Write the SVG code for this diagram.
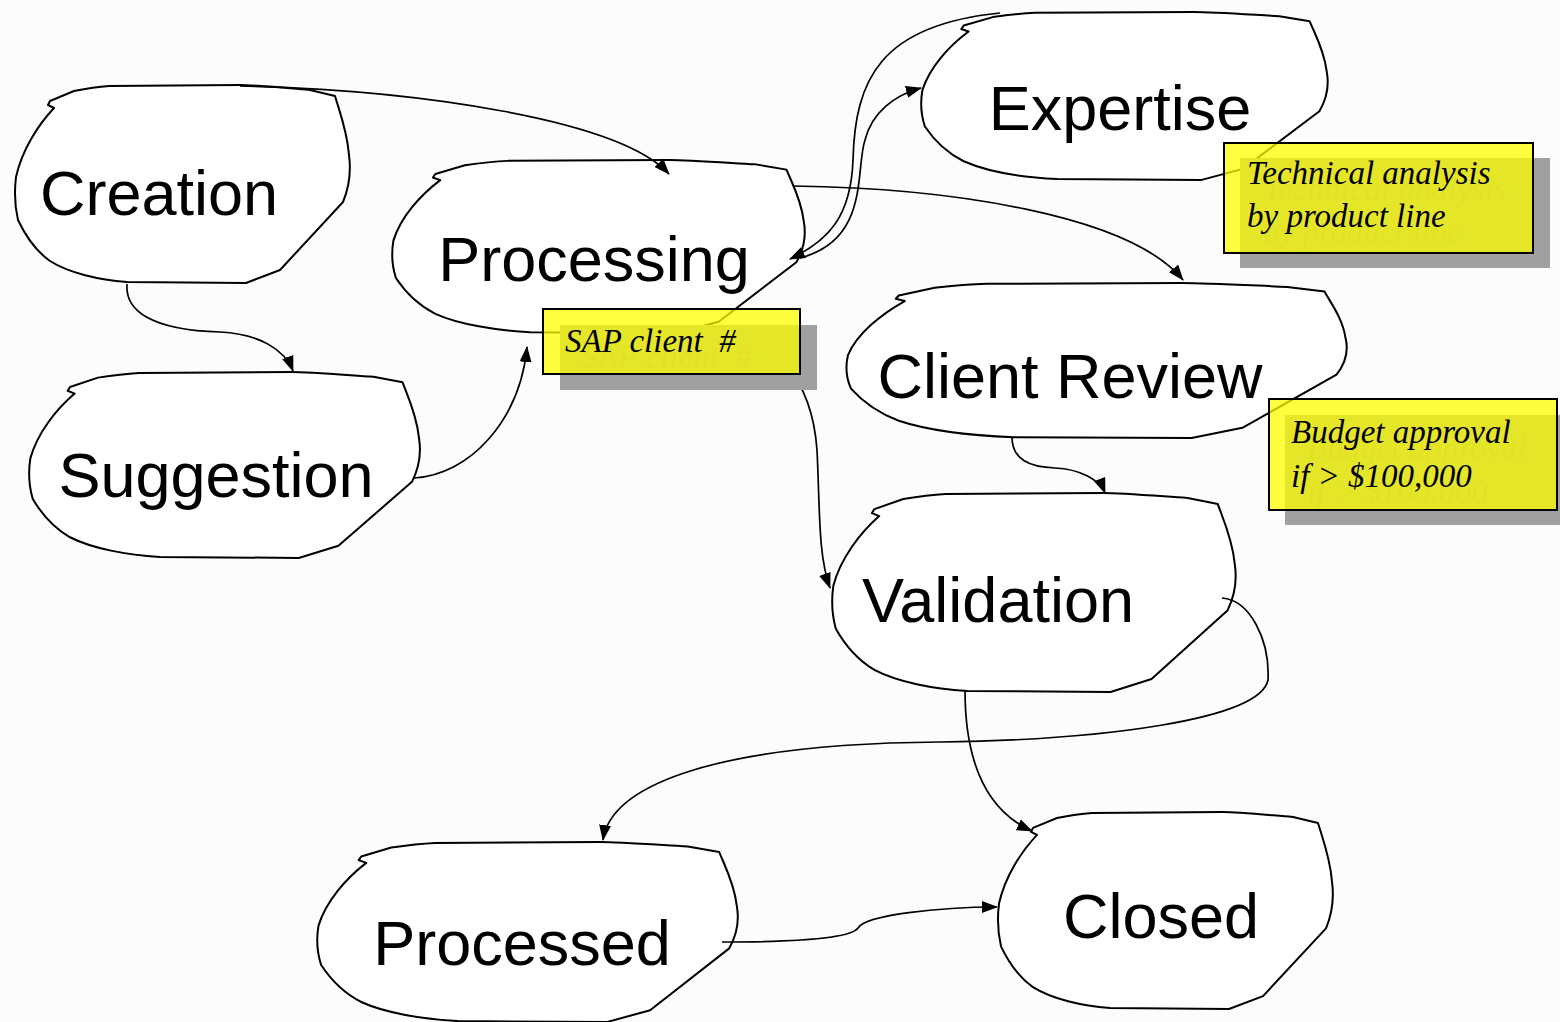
<svg xmlns="http://www.w3.org/2000/svg" xmlns:xlink="http://www.w3.org/1999/xlink" width="1560" height="1022" viewBox="0 0 1560 1022">
<style>
.blob{fill:#ffffff;stroke:#000;stroke-width:2;vector-effect:non-scaling-stroke;stroke-linejoin:round}
.lbl{font-family:"Liberation Sans",Arial,sans-serif;font-size:63px;fill:#000;text-anchor:middle}
.conn{fill:none;stroke:#000;stroke-width:1.7;marker-end:url(#arr)}
.shadow{fill:#a0a0a0}
.note{fill:#ffff00;fill-opacity:0.74;stroke:#000;stroke-width:2}
.ntxt{font-family:"Liberation Serif","Times New Roman",serif;font-style:italic;font-size:33px;fill:#000}
.ghost{font-family:"Liberation Serif","Times New Roman",serif;font-style:italic;font-size:33px;fill:#8e8e8e}
</style>
<defs>
<path id="blob" class="blob" d="M 40,23 C 24,40 8,65 2,92 C 0,108 1,122 4,135 C 12,152 22,166 36,176 C 55,188 85,195 113,197 L 232,198 L 266,185 L 329,117 C 336,100 337,85 335,70 C 333,45 325,25 321,11 L 296,5 C 260,2 240,0 226,0 L 95,1 C 80,2 70,4 60,6 L 36,16 L 34,20 L 40,23 Z"/>
<marker id="arr" markerUnits="userSpaceOnUse" markerWidth="16" markerHeight="12" refX="15" refY="6" orient="auto">
<path d="M0,0 L16,6 L0,12 Z" fill="#000"/>
</marker>
</defs>
<rect x="0" y="0" width="1560" height="1022" fill="#fcfcfc"/>

<g id="node-creation">
<use xlink:href="#blob" href="#blob" transform="translate(14,85) scale(1,1)"/>
<text class="lbl" x="159" y="215">Creation</text>
</g>
<g id="node-processing">
<use xlink:href="#blob" href="#blob" transform="translate(391,160) scale(1.232,0.874)"/>
<text class="lbl" x="594" y="281">Processing</text>
</g>
<g id="node-suggestion">
<use xlink:href="#blob" href="#blob" transform="translate(28,372) scale(1.167,0.939)"/>
<text class="lbl" x="216" y="497">Suggestion</text>
</g>
<g id="node-expertise">
<use xlink:href="#blob" href="#blob" transform="translate(920,12) scale(1.214,0.848)"/>
<text class="lbl" x="1120" y="130">Expertise</text>
</g>
<g id="node-clientreview">
<use xlink:href="#blob" href="#blob" transform="translate(845,283) scale(1.494,0.783)"/>
<text class="lbl" x="1070" y="398">Client Review</text>
</g>
<g id="node-validation">
<use xlink:href="#blob" href="#blob" transform="translate(831,493) scale(1.205,1.005)"/>
<text class="lbl" x="998" y="622">Validation</text>
</g>
<g id="node-processed">
<use xlink:href="#blob" href="#blob" transform="translate(316,842) scale(1.256,0.909)"/>
<text class="lbl" x="522" y="965">Processed</text>
</g>
<g id="node-closed">
<use xlink:href="#blob" href="#blob" transform="translate(997,812) scale(1,0.995)"/>
<text class="lbl" x="1161" y="938">Closed</text>
</g>

<g id="connectors">
<path class="conn" d="M 240,86 C 420,90 620,120 669,174"/>
<path class="conn" d="M 127,284 C 125,310 150,330 220,332 C 260,334 285,350 293,371"/>
<path class="conn" d="M 414,478 C 470,475 520,420 527,347"/>
<path class="conn" d="M 800,258 C 870,240 855,170 865,140 C 872,112 895,95 921,88"/>
<path class="conn" d="M 1000,13 C 880,25 855,80 853,160 C 851,215 830,240 790,259"/>
<path class="conn" d="M 793,186 C 950,188 1130,215 1183,280"/>
<path class="conn" d="M 715,332 C 775,335 812,380 817,450 C 820,510 818,555 830,588"/>
<path class="conn" d="M 1012,437 C 1012,460 1030,467 1055,468 C 1080,469 1100,480 1105,493"/>
<path class="conn" d="M 1222,598 C 1250,600 1270,640 1268,680 C 1260,720 1100,740 940,742 C 700,744 610,790 603,840"/>
<path class="conn" d="M 965,690 C 965,760 985,810 1032,831"/>
<path class="conn" d="M 722,942 C 780,942 850,940 858,928 C 865,915 940,907 997,907"/>
</g>

<g id="note-sap">
<rect class="shadow" x="560" y="325" width="257" height="65"/>
<text class="ghost" x="581" y="368">SAP client&#160; #</text>
<rect class="note" x="543" y="309" width="257" height="65"/>
<text class="ntxt" x="565" y="352">SAP client&#160; #</text>
</g>
<g id="note-technical">
<rect class="shadow" x="1240" y="158" width="310" height="110"/>
<text class="ghost" x="1263" y="200">Technical analysis</text>
<text class="ghost" x="1263" y="243">by product line</text>
<rect class="note" x="1224" y="143" width="309" height="110"/>
<text class="ntxt" x="1247" y="184">Technical analysis</text>
<text class="ntxt" x="1247" y="227">by product line</text>
</g>
<g id="note-budget">
<rect class="shadow" x="1285" y="415" width="275" height="110"/>
<text class="ghost" x="1307" y="459">Budget approval</text>
<text class="ghost" x="1307" y="503">if &gt; $100,000</text>
<rect class="note" x="1269" y="399" width="288" height="111"/>
<text class="ntxt" x="1291" y="443">Budget approval</text>
<text class="ntxt" x="1291" y="487">if &gt; $100,000</text>
</g>
</svg>
